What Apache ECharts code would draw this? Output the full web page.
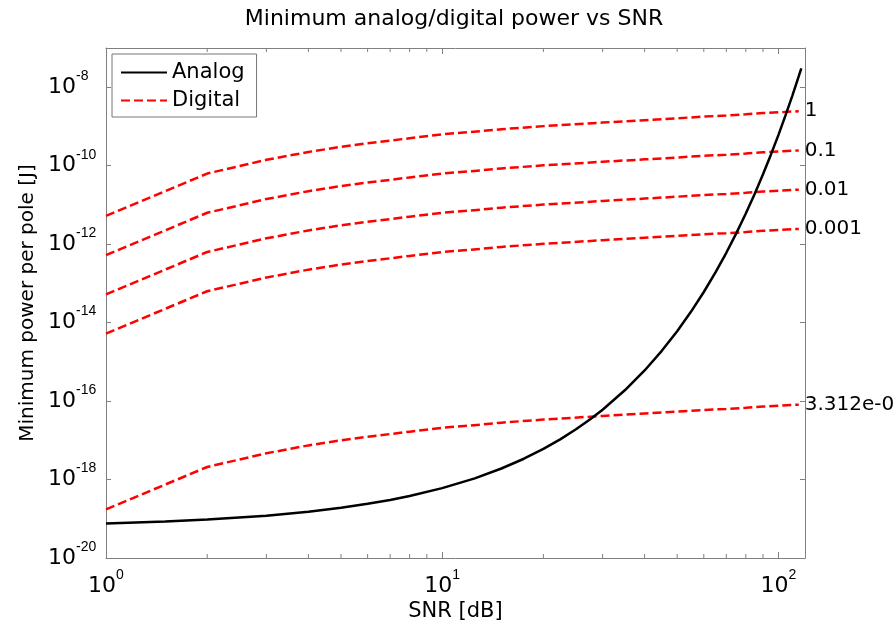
<!DOCTYPE html>
<html><head><meta charset="utf-8">
<script src="https://cdn.jsdelivr.net/npm/echarts@6/dist/echarts.min.js"></script>
<style>html,body{margin:0;padding:0;background:#fff}#c{width:893px;height:623px}</style>
</head><body><div id="c"></div>
<script>
// ---- data ----
const snrDigital = [1, 2, 3, 4, 5, 6, 8, 10, 13, 15, 20, 30, 40, 50, 60, 70, 80, 90, 100, 115];
const digital_1 = [5.25e-12, 6.31e-11, 1.41e-10, 2.24e-10, 3.02e-10, 3.72e-10, 5.01e-10, 6.31e-10, 7.59e-10, 8.51e-10, 1.02e-9, 1.26e-9, 1.45e-9, 1.62e-9, 1.78e-9, 1.91e-9, 2.04e-9, 2.19e-9, 2.29e-9, 2.45e-9];
const digital_0_1 = [5.25e-13, 6.31e-12, 1.41e-11, 2.24e-11, 3.02e-11, 3.72e-11, 5.01e-11, 6.31e-11, 7.59e-11, 8.51e-11, 1.02e-10, 1.26e-10, 1.45e-10, 1.62e-10, 1.78e-10, 1.91e-10, 2.04e-10, 2.19e-10, 2.29e-10, 2.45e-10];
const digital_0_01 = [5.25e-14, 6.31e-13, 1.41e-12, 2.24e-12, 3.02e-12, 3.72e-12, 5.01e-12, 6.31e-12, 7.59e-12, 8.51e-12, 1.02e-11, 1.26e-11, 1.45e-11, 1.62e-11, 1.78e-11, 1.91e-11, 2.04e-11, 2.19e-11, 2.29e-11, 2.45e-11];
const digital_0_001 = [5.25e-15, 6.31e-14, 1.41e-13, 2.24e-13, 3.02e-13, 3.72e-13, 5.01e-13, 6.31e-13, 7.59e-13, 8.51e-13, 1.02e-12, 1.26e-12, 1.45e-12, 1.62e-12, 1.78e-12, 1.91e-12, 2.04e-12, 2.19e-12, 2.29e-12, 2.45e-12];
const digital_small = [1.739e-19, 2.090e-18, 4.67e-18, 7.42e-18, 1.000e-17, 1.232e-17, 1.659e-17, 2.090e-17, 2.514e-17, 2.819e-17, 3.378e-17, 4.173e-17, 4.802e-17, 5.365e-17, 5.895e-17, 6.326e-17, 6.756e-17, 7.253e-17, 7.584e-17, 8.114e-17];
const digitalLabels = ['1', '0.1', '0.01', '0.001', '3.312e-08'];

const snrAnalog = [1, 1.5, 2, 3, 4, 5, 6, 7, 8, 10, 12.5, 15, 17.5, 20, 22.5, 25, 27.5, 30, 35, 40, 45, 50, 55, 60, 65, 70, 75, 80, 85, 90, 95, 100, 105, 110, 115, 117];
const analog = [7.59e-20, 8.51e-20, 9.55e-20, 1.20e-19, 1.51e-19, 1.91e-19, 2.40e-19, 3.02e-19, 3.80e-19, 6.03e-19, 1.07e-18, 1.91e-18, 3.39e-18, 6.03e-18, 1.07e-17, 1.91e-17, 3.39e-17, 6.03e-17, 1.91e-16, 6.03e-16, 1.91e-15, 6.03e-15, 1.91e-14, 6.03e-14, 1.91e-13, 6.03e-13, 1.91e-12, 6.03e-12, 1.91e-11, 6.03e-11, 1.91e-10, 6.03e-10, 1.91e-9, 6.03e-9, 1.91e-8, 3.02e-8];

const xMin = 1, xMax = 120;
const yMin = 1e-20, yMax = 1e-7;
const xMinorTicks = [2, 3, 4, 5, 6, 7, 8, 9, 20, 30, 40, 50, 60, 70, 80, 90];

// ---- chart ----
const FONT = 'DejaVu Sans';
const SUPFONT = 'Liberation Sans';
const AXIS_COLOR = '#808080';
const chart = echarts.init(document.getElementById('c'));

function powLabel(step) {
  return function (v) {
    const e = Math.log10(v);
    const r = Math.round(e);
    if (Math.abs(e - r) > 1e-6 || r % step !== 0) return '';
    return '{b|10}{s|' + r + '}';
  };
}
const rich = {
  b: { fontSize: 22, fontFamily: FONT, color: '#000', lineHeight: 36, verticalAlign: 'middle' },
  s: { fontSize: 14, fontFamily: SUPFONT, color: '#000', lineHeight: 14, verticalAlign: 'top' }
};

const digitalSets = [digital_1, digital_0_1, digital_0_01, digital_0_001, digital_small];
const digitalSeries = digitalSets.map((arr, i) => ({
  name: 'Digital',
  type: 'line',
  data: snrDigital.map((x, j) => [x, arr[j]]),
  symbol: 'none',
  lineStyle: { color: '#ff0000', width: 2.5, type: [9, 4] },
  itemStyle: { color: '#ff0000' },
  endLabel: {
    show: true,
    formatter: () => digitalLabels[i],
    color: '#000',
    fontSize: 20,
    fontFamily: FONT,
    distance: 6
  },
  z: 3
}));

const option = {
  animation: false,
  backgroundColor: '#fff',
  title: {
    text: 'Minimum analog/digital power vs SNR',
    left: 449,
    textAlign: 'center',
    top: 3,
    textStyle: { fontFamily: FONT, fontSize: 22, fontWeight: 'normal', color: '#000' }
  },
  legend: {
    data: ['Analog', 'Digital'],
    orient: 'vertical',
    left: 112,
    top: 54,
    padding: [8, 12, 6, 8],
    itemWidth: 46,
    itemHeight: 14,
    itemGap: 7,
    backgroundColor: '#fff',
    borderColor: '#777',
    borderWidth: 1,
    borderRadius: 0,
    itemStyle: { opacity: 0 },
    textStyle: { fontFamily: FONT, fontSize: 21, color: '#000' }
  },
  grid: { left: 106, right: 88, top: 48, bottom: 65, containLabel: false, outerBoundsMode: 'none' },
  xAxis: [{
    type: 'log', logBase: 10, min: xMin, max: xMax, interval: 1, position: 'bottom',
    name: 'SNR [dB]', nameLocation: 'middle', nameGap: 43, nameMoveOverlap: false,
    nameTextStyle: { fontFamily: FONT, fontSize: 21, color: '#000' },
    axisLine: { show: true, onZero: false, lineStyle: { color: AXIS_COLOR, width: 1 } },
    axisTick: { show: true, inside: true, length: 6, lineStyle: { color: AXIS_COLOR } },
    axisLabel: { formatter: powLabel(1), margin: 10, rich: rich, showMinLabel: true, showMaxLabel: true },
    splitLine: { show: false }, minorTick: { show: false }
  }, {
    type: 'log', logBase: 10, min: xMin, max: xMax, interval: 1, position: 'top',
    axisLine: { show: true, onZero: false, lineStyle: { color: AXIS_COLOR, width: 1 } },
    axisTick: { show: true, inside: true, length: 6, lineStyle: { color: AXIS_COLOR } },
    axisLabel: { show: false }, splitLine: { show: false }
  }],
  yAxis: [{
    type: 'log', logBase: 10, min: yMin, max: yMax, interval: 2, position: 'left',
    name: 'Minimum power per pole [J]', nameLocation: 'middle', nameGap: 68, nameMoveOverlap: false,
    nameTextStyle: { fontFamily: FONT, fontSize: 20, color: '#000' },
    axisLine: { show: true, onZero: false, lineStyle: { color: AXIS_COLOR, width: 1 } },
    axisTick: { show: true, inside: true, length: 5, lineStyle: { color: AXIS_COLOR } },
    axisLabel: { formatter: powLabel(2), margin: 58, align: 'left', rich: rich },
    splitLine: { show: false }
  }, {
    type: 'log', logBase: 10, min: yMin, max: yMax, interval: 2, position: 'right',
    axisLine: { show: true, onZero: false, lineStyle: { color: AXIS_COLOR, width: 1 } },
    axisTick: { show: true, inside: true, length: 5, lineStyle: { color: AXIS_COLOR } },
    axisLabel: { show: false }, splitLine: { show: false }
  }],
  series: [{
    name: 'Analog',
    type: 'line',
    data: snrAnalog.map((x, j) => [x, analog[j]]),
    symbol: 'none',
    lineStyle: { color: '#000', width: 2.5, type: 'solid' },
    itemStyle: { color: '#000' },
    z: 4
  }].concat(digitalSeries).concat([{
    type: 'custom',
    name: 'minorTicks',
    silent: true,
    clip: false,
    xAxisIndex: 0, yAxisIndex: 0,
    data: xMinorTicks.map(v => [v, yMin]),
    renderItem: function (params, api) {
      const v = api.value(0);
      const b = api.coord([v, yMin]);
      const t = api.coord([v, yMax]);
      return {
        type: 'group',
        children: [
          { type: 'line', shape: { x1: b[0], y1: b[1], x2: b[0], y2: b[1] - 4 }, style: { stroke: AXIS_COLOR, lineWidth: 1 } },
          { type: 'line', shape: { x1: t[0], y1: t[1], x2: t[0], y2: t[1] + 4 }, style: { stroke: AXIS_COLOR, lineWidth: 1 } }
        ]
      };
    },
    z: 2
  }])
};
chart.setOption(option);
</script>
</body></html>
